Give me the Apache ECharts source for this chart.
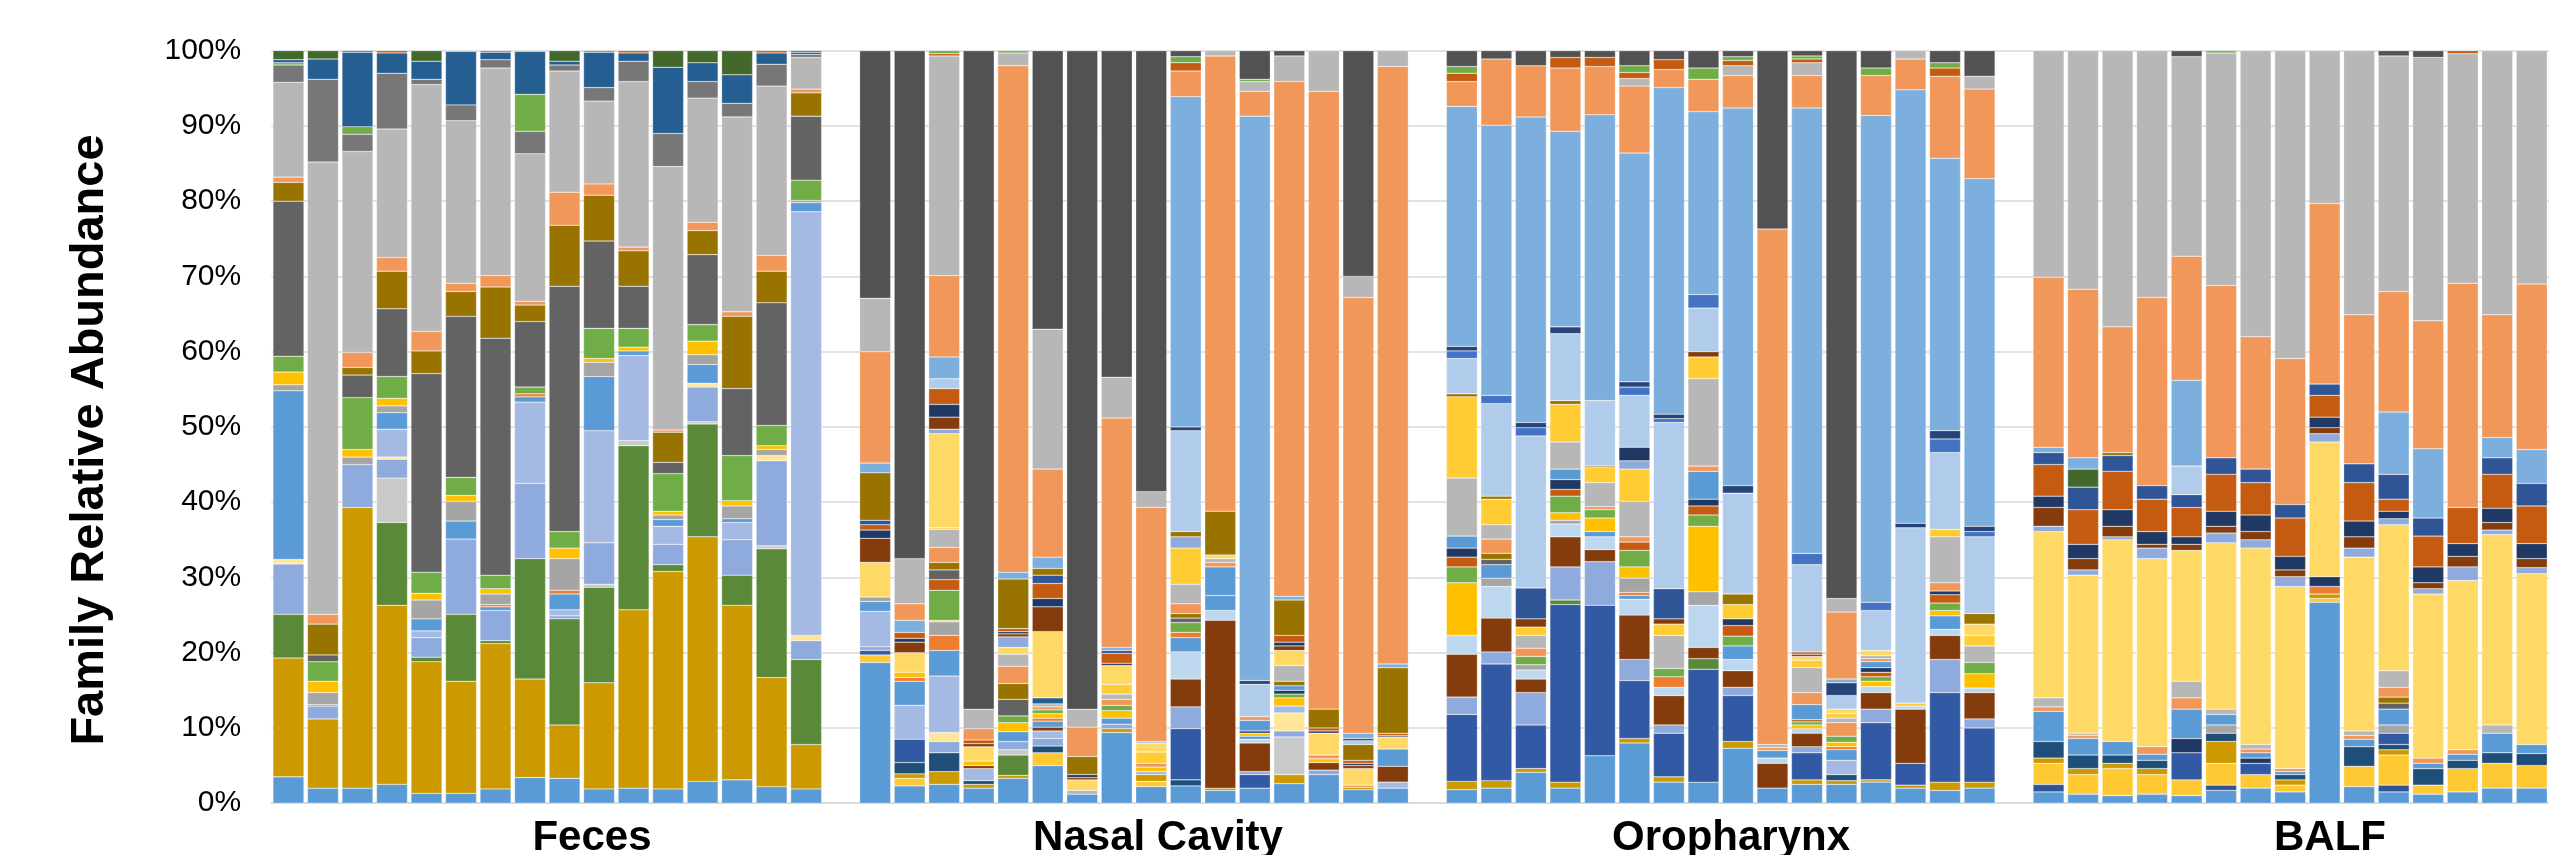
<!DOCTYPE html>
<html>
<head>
<meta charset="utf-8">
<script src="https://cdn.jsdelivr.net/npm/echarts@6/dist/echarts.min.js"></script>
<style>
  html, body { margin: 0; padding: 0; background: #ffffff; }
  #chart { width: 2549px; height: 855px; }
</style>
</head>
<body>
<div id="chart"></div>
<script>
// ---------------------------------------------------------------
// Family-level relative abundance (%) per sample, four body sites.
// Each family is listed as four arrays: Feces (16 samples),
// Nasal Cavity (16), Oropharynx (16), BALF (15). 0 = not detected.
// Families are given bottom-to-top in stacking order.
// ---------------------------------------------------------------
const groupNames = ['Feces', 'Nasal Cavity', 'Oropharynx', 'BALF'];
const groupSizes = [16, 16, 16, 15];
const groupPrefix = ['F', 'N', 'O', 'B'];

function rows(f, n, o, b) {
  const parts = [f, n, o, b];
  const out = [];
  parts.forEach((p, gi) => {
    const seg = p || new Array(groupSizes[gi]).fill(0);
    seg.forEach(v => out.push(v));
    if (gi < parts.length - 1) out.push(null); // empty slot between sites
  });
  return out;
}

const famBase = rows(
  [3.5,2.0,2.0,2.5,1.3,1.3,1.9,3.4,3.3,1.9,2.0,1.9,2.9,3.1,2.2,1.9],
  [18.7,2.3,2.5,2.0,3.3,5.0,1.2,9.4,2.2,2.3,1.7,2.0,2.6,3.8,1.8,2.0],
  [1.8,2.0,4.1,2.0,6.3,8.0,2.8,2.8,7.3,2.0,2.5,2.5,2.8,2.0,1.7,2.0],
  [1.5,1.2,1.0,1.2,1.0,1.7,2.0,1.5,26.7,2.2,1.5,1.2,1.5,2.0,2.0]);
const famLowNavy = rows(0, 0, 0,
  [1.0,0,0,0,0,0.7,0,0,0,0,0.9,0,0,0,0]);
const famLowYellow = rows(0,
  [1.0,1.0,0,0,0,1.7,0,0,0.7,0,0,0,0,0,0,0],
  0,
  [2.8,2.6,3.6,2.6,2.1,2.9,1.8,0.9,0.5,2.7,4.0,1.2,3.1,3.3,3.0]);
const famGold = rows(
  [15.8,9.2,37.3,23.8,17.5,14.9,19.3,13.1,7.1,14.1,23.7,28.9,32.5,23.2,14.5,5.9],
  [0,0.6,1.7,0.5,0.4,0,0,0.5,0.9,0,0.3,0,1.2,0,0.3,0],
  [1.1,1.0,0.5,0.8,0,0.6,0.7,0,0.9,0,0.6,0.5,0.3,0.4,1.1,0.8],
  [0.7,0.8,0.7,0.8,0,2.9,0,0.7,0.6,0,0.7,0,0,0,0]);
const famLowTeal = rows(0,
  [0,1.5,2.5,0.5,0,0.9,0,0,0,0.8,0,0,0,0,0,0],
  [0,0,0,0,0,0,0,0,0,0,0,0.8,0,0,0,0],
  [2.2,1.8,1.1,1.1,0,1.1,0,0.7,0,2.6,0.7,2.2,1.1,1.4,1.6]);
const famRoyal = rows(0,
  [0.6,3.1,0,0,0,0,0,0,0,6.8,0,1.8,0,0,0,0],
  [8.9,15.5,5.8,23.6,20.0,7.7,5.8,15.0,6.1,0,3.6,0,7.6,2.9,11.9,7.2],
  [0,0,0,0,3.6,0,1.5,0,0,0,1.5,0,0,0,0]);
const famGreen = rows(
  [5.8,0,0,11.0,0.6,8.9,0.4,16.0,14.1,12.7,21.8,0.9,15.0,4.0,17.1,11.3],
  [0,0,0,0,2.7,0,0,0,0,0,0,0,0,0,0,0],
  [0,0,0,0.6,0,0,0,1.4,0,0,0,0,0,0,0,0],
  0);
const famSilver = rows(
  [0,0,0,5.9,0,0,0,0,0,0.4,0.7,0,0.3,0,0.4,0],
  [0,0,0,0,0.7,0,0,0,0,0,0,0,5.0,0,0,0],
  0, 0);
const famPeriwinkle = rows(
  [6.7,1.7,5.7,2.5,2.6,10.0,4.0,10.0,0.4,5.5,0,2.7,4.6,4.7,11.3,2.5],
  [0.5,0,1.5,0,1.1,1.0,0,0.6,0,2.9,0,0.4,0.8,0.6,0,0],
  [2.3,1.6,4.3,4.4,5.8,2.8,1.1,0,1.1,0,0.8,0,1.8,0,4.4,1.2],
  0);
const famPaleYellow = rows(
  [0.6,0,0,0.3,0,0,0,0,0,0,0,0,0.5,0,0.7,0.7],
  [0,0,1.2,0,0,0,0,0,0,0,0,0,2.4,0,0,0],
  0, 0);
const famLightPeri = rows(
  [0,0,0,3.7,0.9,0,0,10.8,0.8,14.9,11.3,2.4,0,2.3,0,56.3],
  [4.7,4.5,7.5,1.6,0,1.0,0,0,0.4,0,0,0,0.9,0,0,0.8],
  [0,0,0,0,0,0,0,0,0,0,0,1.9,0,0,0,0],
  0);
const famBrown = rows(0,
  [0,0,0,0.4,0,0.5,0,0,0,3.7,22.3,3.8,0,1.0,0,2.1],
  [5.7,4.5,1.8,4.0,1.6,5.9,3.9,1.5,2.2,3.3,1.8,0,2.2,7.2,3.2,3.5],
  0);
const famIce = rows(0,
  [0,0,0,0,0,0,0,0,0,3.6,1.3,0.5,0,0,0,0],
  [2.5,4.2,1.2,1.7,1.7,2.1,1.1,5.6,1.5,0.7,0.6,0,0.8,0.4,0.8,0.6],
  0);
const famBlue2 = rows(
  [22.4,0,0,2.2,1.6,2.4,0.5,0.7,2.1,7.2,0.6,0.9,2.5,0.5,0,1.2],
  [1.3,3.2,3.4,0,1.3,0.8,0,0.8,0,1.9,2.0,0.4,0,0,0,0],
  [0,0,0,0,0.7,0.5,0,0,1.8,0,0,1.4,0,0,1.8,0],
  0);
const famOrange = rows(
  [0,0.2,0,0,0,0,0.3,0.4,0.5,0,0,0,0,0,0,0],
  [0,0.5,2.0,0,0,0.4,0,0,0,0.7,0,0,0,0,0,0],
  [0,0,0,0,0,0.4,1.4,0,0,0,0,0.4,0,0,0,0],
  [0,0,0,0,0,0,0,0,1.0,0,0,0,0,0,0]);
const famGray = rows(
  [0.8,1.6,1.0,0.9,2.5,2.6,1.4,0,4.2,1.9,0,0.6,1.3,1.7,0.8,0.3],
  [0.6,0,1.8,0,0,0,0,0,0,0,0,0,0,0,0,0],
  [0,1.1,0.7,0.5,0,1.9,0,1.8,0,0,0,0,0,0,0,0],
  [0,0,0,0,0,1.1,0,0,0,0,1.1,0,0,0,0]);
const famAmber = rows(
  [1.7,1.5,1.0,1.0,0.9,0.8,0.7,0,1.4,0.5,0.5,0.5,1.8,0.7,0.5,0],
  [0,0.7,0.2,0.6,1.2,0.6,0,1.0,0.6,0,0,0.4,1.1,0.5,0,0],
  [7.0,0,0,1.0,1.8,1.5,0,8.7,0,0,0.5,0.6,0.7,0,0.7,1.9],
  0);
const famLeaf = rows(
  [2.1,2.6,6.9,2.9,2.8,2.4,1.8,0.9,2.2,4.0,2.5,5.0,2.2,6.0,2.7,2.7],
  [0,0,4.0,0,0.9,0.5,0,0.7,0,1.3,0,0,0.5,0,0,0],
  [2.1,0,1.1,2.2,1.1,2.2,1.1,1.5,1.3,0,0.4,0.8,0.6,0,1.0,1.5],
  0);
const famRust = rows(0,
  [0,0,1.4,0,0,0,0,0,0,0,0,0,0,0,0,0],
  [1.3,0,0,0.9,0,1.1,0,1.2,1.4,0,0.3,0,0.6,0,1.1,0],
  0);
const famNavy = rows(0,
  [0,0,0,0,0,0,0,0,0,0,0,0.3,0.5,0,0,0],
  [1.2,0,0,1.3,0,0,0,0.9,0.9,0,0,0,0.6,0,0.5,0],
  [0,0,0,0,1.9,0,0.7,0,1.3,0,0,0,0,0,0]);
const famBlue3 = rows(0,
  [0,0,0,0,0,0,0,0,0,0,3.8,1.4,0.6,0,0,2.3],
  [1.6,1.8,0,1.4,0,0,0,3.7,0,1.0,2.0,0,0.8,0,0,0],
  [4.0,2.2,1.8,0.8,3.9,1.4,0.7,0.4,0,1.0,2.1,0.7,0.8,2.6,1.2]);
const famCharcoal = rows(
  [20.6,0.9,3.0,9.0,26.4,21.4,31.5,8.7,32.6,11.6,5.6,1.5,9.3,8.9,16.3,8.5],
  [0,0,1.3,0,2.2,0,0,0,0,0.6,0,0,0,0,0,0],
  [0,0.7,0,0,0,0,0,0,0,0,0,0,0,0,0,0],
  [0,0,0,0,0,0,0,0,0,0,0.8,0,0,0,0]);
const famOchre = rows(
  [2.5,4.1,1.0,5.0,3.0,3.3,6.8,2.2,8.1,6.1,4.7,4.0,3.2,9.6,4.2,3.1],
  [0,0,1.0,0,2.1,0,0,0,0,0.6,0,0,0.6,0,0,0],
  [0,0.8,0,0,0,0,0,0,0,0,0,0,0,0,0,0],
  [0,0,0,0,0,0,0,0,0,0,0.8,0,0,0,0]);
const famPeach = rows(
  [0.7,1.3,2.0,1.8,2.6,1.1,1.5,0.5,4.4,1.5,0.5,0.3,1.1,0.6,2.1,0.5],
  [0,0,2.0,0,2.3,0.4,0,0.8,0.5,1.3,0.6,0.5,0,0.5,0.3,0],
  [0,1.9,1.1,0,0.4,0.7,0,0.7,0,0.4,1.6,1.8,0.4,0,1.1,0],
  [0.6,0.4,0,1.0,1.5,0,0.5,0.4,0,0.5,1.3,0.7,0.6,0,0]);
const famAsh = rows(
  [12.6,60.1,26.7,17.1,32.8,21.6,27.6,19.6,16.1,11.0,22.0,35.0,16.5,25.9,22.5,4.2],
  [0,0,2.4,0,1.6,0.4,0.5,0.7,0,2.6,0.5,0,2.1,0,0,0],
  [7.7,1.9,1.7,3.6,3.2,4.7,4.4,11.6,0,0.4,3.3,0.6,0.4,0,6.1,2.2],
  [1.2,0.3,0,0,2.2,0.7,0.6,0,0,0.6,2.2,0,0,1.1,0]);
const famSlate = rows(
  [2.3,11.0,2.3,7.4,0.7,2.1,1.1,3.0,0.8,1.8,2.7,4.4,2.2,1.8,2.9,0.4],
  0, 0, 0);
const famLime = rows(
  [0.3,0,1.0,0,0,0,0,4.9,0,0,0,0,0,0,0,0],
  0, 0, 0);
const famSteel = rows(
  [0.4,2.7,9.9,2.7,2.4,7.1,1.0,5.7,0.5,4.7,1.1,8.8,2.5,3.8,1.5,0.3],
  [0,0,0,0,0,0.8,0,0,0,0,0,0,0,0,0,0],
  0, 0);
const famForest = rows(
  [1.2,1.1,0.2,0,1.4,0,0,0,1.4,0,0,2.2,1.6,3.2,0,0.2],
  0, 0, 0);
const famSun = rows(0,
  [0,0,0.2,0,0,0,0,1.3,1.5,4.8,0,0,0,0,0,0],
  [10.8,3.4,1.1,5.0,2.0,4.3,1.5,2.9,1.9,0,1.0,0.6,0,0.4,1.0,1.4],
  0);
const famButter = rows(0,
  [4.6,2.6,12.5,1.9,0.9,8.8,1.4,2.5,1.2,0,0.5,0,2.0,2.9,2.2,1.6],
  [0,0,0,0,0,0,0,0,0,0,0.5,0.6,0.7,0,0,1.5],
  [22.1,21.0,26.8,25.0,17.4,22.1,26.1,24.2,17.9,23.1,19.4,21.8,22.5,25.3,22.7]);
const famLavender = rows(0,
  [0,0,0.6,0,1.4,0,0,0,0.2,1.5,0,0,0,0,0,0],
  [0,0,0,0,0,1.1,0,0,0,0,0,0,0,0,0,0],
  [0.7,0.7,0.4,1.4,0,1.3,1.1,1.3,1.1,1.2,0.8,0.7,1.8,0.6,0.8]);
const famUmber = rows(0,
  [3.2,1.4,1.6,0.4,0.4,3.3,0.3,0,0,0,0,0,0.6,0,0.4,0],
  [0,0,1.1,0,0,0,0.7,0.7,0,0,0.3,0,0,0,0,0],
  [2.5,1.5,1.4,0.5,0.8,0.9,1.1,0.9,0.8,1.5,0,0.8,1.4,1.0,1.2]);
const famMidnight = rows(0,
  [1.1,0.5,1.7,0,0.3,1.1,0.4,0.3,0,0,0,0,0.5,0.3,0.3,0.2],
  [0,0,0,0,0,1.8,0,0,0,0,0,0,0,0,0,0],
  [1.5,1.9,2.2,1.7,1.0,2.0,2.2,1.8,1.4,2.1,1.0,2.1,1.7,1.9,2.0]);
const famCopper = rows(0,
  [0.7,0.8,2.1,0.5,0.4,2.0,0,1.3,0,0,0,0,0.9,0.4,0.4,0.3],
  [0,0,0,0,0,0,0,0,0,0,0.3,0,0,0,0,0],
  [4.2,4.6,5.1,4.3,3.9,4.9,4.3,5.1,2.9,5.1,1.6,4.1,4.8,4.5,5.0]);
const famCobalt = rows(0,
  [0.6,0,0,0,0,1.1,0,0.4,0,0,0,0,0,0,0,0],
  [0,0,4.1,0,0,0,4.0,0,0,0,0,0,0,0,0,0],
  [1.6,3.0,2.1,1.8,1.7,2.2,1.8,1.8,1.5,2.5,3.3,2.4,0,2.2,3.0]);
const famMoss = rows(0, 0, 0,
  [0,2.4,0,0,0,0,0,0,0,0,0,0,0,0,0]);
const famBronze = rows(0,
  [6.3,0,0,0,6.6,0.9,2.4,0,0,0.7,5.8,0,4.7,2.5,2.1,8.7],
  [0.4,0.4,0,0.5,0.2,0,0,0,1.4,0,0,0,0,0,0,1.4],
  [0,0,0.4,0,0,0,0,0,0,0,0,0,0,0,0]);
const famMist = rows(0,
  [0,0,1.3,0,0,0,0,0,0,13.4,0,4.3,0,0,0.5,0],
  [4.7,12.3,20.2,8.9,8.7,6.9,22.1,5.8,13.4,0,11.6,1.8,5.3,23.3,10.2,10.2],
  [0,0,0,0,3.8,0,0,0,0,0,0,0,0,0,0]);
const famAzure = rows(0, 0,
  [1.0,1.1,1.1,0,0,1.1,0.5,1.8,0,0,1.5,0,1.1,0,1.8,0.7],
  0);
const famInk = rows(0,
  [0,0,0,0,0,0,0,0,0,0.5,0,0.5,0,0,0.3,0],
  [0.6,0,0.7,0.9,0,0.7,0.6,0,1.0,0,0,1.7,0,0.6,1.1,0.7],
  0);
const famSky = rows(0,
  [1.3,1.6,2.9,0,0.9,1.5,0,0.4,0,43.9,0,75.0,0.5,0,0.7,0.5],
  [31.9,35.9,40.6,26.0,38.0,30.4,43.4,24.3,50.2,0,59.2,0.5,64.7,57.6,36.2,46.2],
  [0.7,1.5,0,0,11.4,0,0,0,0,0,8.3,9.2,0,2.7,4.5]);
const famCoral = rows(0,
  [14.8,2.2,10.8,1.5,67.3,11.7,3.9,30.5,31.1,3.4,60.5,3.3,68.4,82.1,57.9,79.4],
  [3.3,8.8,6.8,8.4,6.4,8.9,2.4,4.3,4.3,68.5,4.3,8.9,5.3,4.1,10.9,11.9],
  [22.6,22.4,16.7,25.0,16.5,22.9,17.6,19.4,24.0,19.8,16.0,17.0,29.8,16.3,22.0]);
const famFog = rows(0,
  [7.1,6.0,29.2,2.6,1.7,18.6,2.4,5.4,2.1,0,0.7,1.3,3.4,5.4,2.8,2.1],
  [0,0,0,0,0,1.0,0,0,1.3,0,1.7,1.8,0,1.1,0,1.7],
  [30.1,31.7,36.7,32.8,26.5,30.9,38.0,40.9,20.3,35.1,31.3,35.0,30.5,35.1,31.0]);
const famTangerine = rows(
  [0,0,0,0.3,0,0.1,0.2,0.1,0,0.2,0.3,0,0,0,0.3,0],
  [0,0,0.3,0,0,0,0,0,0,1.1,0,0,0,0,0,0],
  [1.1,0,0,1.4,1.2,0.8,1.3,0,0.7,0,0.5,0,0,0,1.1,0],
  [0,0,0,0,0,0,0,0,0,0,0,0,0.4,0,0]);
const famFern = rows(0,
  [0,0,0.4,0,0.3,0,0,0,0,0.8,0,0.3,0,0,0,0],
  [0.9,0,0,0,0,0.9,0,1.5,0.5,0,0.4,0,1.0,0,0.7,0],
  [0,0,0,0,0,0.3,0,0,0,0,0,0,0,0,0]);
const famGraphite = rows(0,
  [32.9,67.5,0,87.5,0,37.0,87.5,43.4,58.6,0.8,0,3.8,0.7,0,30.0,0],
  [2.1,1.1,2.0,0.9,0.9,2.0,1.2,2.3,0.8,23.7,0.7,72.8,2.3,0,1.6,3.4],
  [0,0,0,0,0.8,0,0,0,0,0,0.7,0.9,0,0,0]);

// stacking order (bottom -> top)
const stackOrder = [
  ['Family 01', famBase], ['Family 02', famLowNavy], ['Family 03', famLowYellow],
  ['Family 04', famGold], ['Family 05', famLowTeal], ['Family 06', famRoyal],
  ['Family 07', famGreen], ['Family 08', famSilver], ['Family 09', famPeriwinkle],
  ['Family 10', famPaleYellow], ['Family 11', famLightPeri], ['Family 12', famBrown],
  ['Family 13', famIce], ['Family 14', famBlue2], ['Family 15', famOrange],
  ['Family 16', famGray], ['Family 17', famAmber], ['Family 18', famLeaf],
  ['Family 19', famRust], ['Family 20', famNavy], ['Family 21', famBlue3],
  ['Family 22', famCharcoal], ['Family 23', famOchre], ['Family 24', famPeach],
  ['Family 25', famAsh], ['Family 26', famSlate], ['Family 27', famLime],
  ['Family 28', famSteel], ['Family 29', famForest], ['Family 30', famSun],
  ['Family 31', famButter], ['Family 32', famLavender], ['Family 33', famUmber],
  ['Family 34', famMidnight], ['Family 35', famCopper], ['Family 36', famCobalt],
  ['Family 37', famMoss], ['Family 38', famBronze], ['Family 39', famMist],
  ['Family 40', famAzure], ['Family 41', famInk], ['Family 42', famSky],
  ['Family 43', famCoral], ['Family 44', famFog], ['Family 45', famTangerine],
  ['Family 46', famFern], ['Family 47', famGraphite]
];
// fill colour of each family, same order
const familyColors = [
  '#5B9BD5', '#2F5597', '#FFC933', '#CC9A00', '#1F4E79', '#3259A3',
  '#5A8A39', '#C9C9C9', '#8FAADC', '#FFE699', '#A4BAE3', '#843C0C',
  '#BDD7EE', '#5B9BD5', '#ED7D31', '#A5A5A5', '#FFC000', '#70AD47',
  '#C55A11', '#203864', '#5B9BD5', '#636363', '#997300', '#F1975A',
  '#B7B7B7', '#777777', '#70AD47', '#255E91', '#43682B', '#FFCD33',
  '#FFD966', '#8FAADC', '#843C0C', '#203864', '#C55A11', '#2F5597',
  '#43682B', '#997300', '#B0CCEA', '#4472C4', '#264478', '#7CAFDD',
  '#F1975A', '#B7B7B7', '#C55A11', '#70AD47', '#525252'
];

// sample slots along the x axis, with one empty slot between sites
const categories = [];
groupSizes.forEach((n, gi) => {
  for (let i = 1; i <= n; i++) categories.push(groupPrefix[gi] + i);
  if (gi < groupSizes.length - 1) categories.push('');
});

const FONT = '"Liberation Sans", Arial, Helvetica, sans-serif';
const PITCH = 34.86;

const series = stackOrder.map(([name, values], i) => ({
  name: name,
  type: 'bar',
  stack: 'abundance',
  barWidth: 31,
  data: values.map(v => (v ? v : '-')),
  itemStyle: {
    color: familyColors[i],
    borderColor: 'rgba(255,255,255,0.5)',
    borderWidth: 0.5
  },
  emphasis: { disabled: true },
  silent: true
}));

const chart = echarts.init(document.getElementById('chart'), null, { renderer: 'canvas' });
chart.setOption({
  animation: false,
  backgroundColor: '#ffffff',
  grid: {
    left: 271.2,
    top: 50.7,
    width: PITCH * categories.length,
    height: 752.5,
    containLabel: false
  },
  xAxis: {
    type: 'category',
    data: categories,
    axisLine: { show: true, lineStyle: { color: '#D9D9D9', width: 1.5 } },
    axisTick: { show: false },
    axisLabel: { show: false },
    splitLine: { show: false }
  },
  yAxis: {
    type: 'value',
    min: 0,
    max: 100,
    interval: 10,
    axisLine: { show: false },
    axisTick: { show: false },
    axisLabel: {
      formatter: '{value}%',
      fontSize: 30,
      fontFamily: FONT,
      color: '#000000',
      margin: 30
    },
    splitLine: { show: true, lineStyle: { color: '#D9D9D9', width: 1.5 } }
  },
  series: series,
  graphic: [
    {
      type: 'text',
      x: 90, y: 440,
      rotation: Math.PI / 2,
      style: {
        text: 'Family Relative Abundance',
        font: 'bold 47px ' + FONT,
        fill: '#000000',
        align: 'center', verticalAlign: 'middle',
        textAlign: 'center', textVerticalAlign: 'middle'
      }
    },
    ...groupNames.map((label, i) => ({
      type: 'text',
      x: [592, 1158, 1731, 2330][i],
      y: 838,
      style: {
        text: label,
        font: 'bold 42px ' + FONT,
        fill: '#000000',
        align: 'center', verticalAlign: 'middle',
        textAlign: 'center', textVerticalAlign: 'middle'
      }
    }))
  ]
});
</script>
</body>
</html>
